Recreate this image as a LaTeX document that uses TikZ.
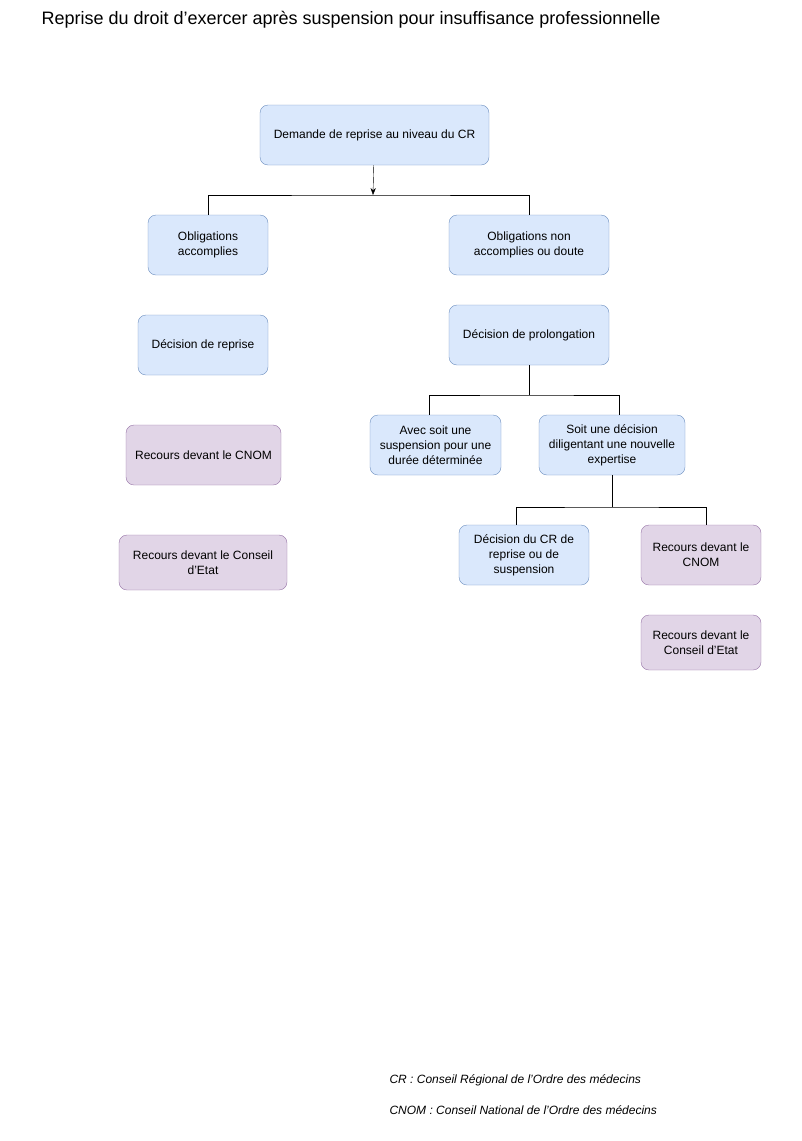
\documentclass[tikz,border=0pt]{standalone}
\usepackage{fontspec}
\setmainfont{Liberation Sans}
\usetikzlibrary{arrows.meta,positioning}
\definecolor{bluefill}{HTML}{DAE8FC}
\definecolor{blueline}{HTML}{6C8EBF}
\definecolor{purplefill}{HTML}{E1D5E7}
\definecolor{purpleline}{HTML}{9673A6}
\tikzset{every picture/.style={x=1pt,y=-1pt}}
\tikzstyle{step_box} =
  [ rectangle
  , rounded corners=8pt
  , draw=blueline
  , fill=bluefill
  , align=center
  , font=\fontsize{12}{15}\selectfont
  , inner sep=2pt
  ]
\tikzstyle{appeal_box} =
  [ step_box
  , draw=purpleline
  , fill=purplefill
  ]
\tikzstyle{note} =
  [ anchor=west
  , font=\fontsize{12}{15}\selectfont\itshape
  ]

\begin{document}
\begin{tikzpicture}
    \useasboundingbox (0,0) rectangle (802,1141);
    \node[anchor=west,font=\fontsize{18}{22}\selectfont] (title) at (38,20) {Reprise du droit d'exercer après suspension pour insuffisance professionnelle};

    \node[step_box,minimum width=229pt,minimum height=60pt] (request) at (374.5,135) {Demande de reprise au niveau du CR};
    \node[step_box,minimum width=120pt,minimum height=60pt] (done)    at (208,245)   {Obligations\\accomplies};
    \node[step_box,minimum width=160pt,minimum height=60pt] (notdone) at (529,245)   {Obligations non\\accomplies ou doute};
    \coordinate (split_top) at (373,195);
    \draw[-{Stealth[length=7pt]}] (request) -- (split_top);
    \draw (done.north) |- (split_top) -| (notdone.north);

    \node[step_box,minimum width=130pt,minimum height=60pt]   (resume)   at (203,345)   {Décision de reprise};
    \node[appeal_box,minimum width=155pt,minimum height=60pt] (cnom_l)   at (203.5,455) {Recours devant le CNOM};
    \node[appeal_box,minimum width=168pt,minimum height=55pt] (etat_l)   at (203,562.5) {Recours devant le Conseil\\d'Etat};

    \node[step_box,minimum width=160pt,minimum height=60pt] (extend)   at (529,335)   {Décision de prolongation};
    \node[step_box,minimum width=131pt,minimum height=60pt] (fixed)    at (435.5,445) {Avec soit une\\suspension pour une\\durée déterminée};
    \node[step_box,minimum width=146pt,minimum height=60pt] (expert)   at (612,445)   {Soit une décision\\diligentant une nouvelle\\expertise};
    \coordinate (split_mid) at (529,395);
    \draw (extend) -- (split_mid);
    \draw ([xshift=-6pt]fixed.north) |- (split_mid) -| ([xshift=7pt]expert.north);

    \node[step_box,minimum width=130pt,minimum height=60pt]   (cr_dec) at (524,555)   {Décision du CR de\\reprise ou de\\suspension};
    \node[appeal_box,minimum width=120pt,minimum height=60pt] (cnom_r) at (701,555)   {Recours devant le\\CNOM};
    \node[appeal_box,minimum width=120pt,minimum height=55pt] (etat_r) at (701,642.5) {Recours devant le\\Conseil d'Etat};
    \coordinate (split_low) at (612,507);
    \draw (expert) -- (split_low);
    \draw ([xshift=-8pt]cr_dec.north) |- (split_low) -| ([xshift=5pt]cnom_r.north);

    \node[note] (cr_note)   at (386,1080) {CR : Conseil Régional de l'Ordre des médecins};
    \node[note] (cnom_note) at (386,1110) {CNOM : Conseil National de l'Ordre des médecins};
\end{tikzpicture}
\end{document}
